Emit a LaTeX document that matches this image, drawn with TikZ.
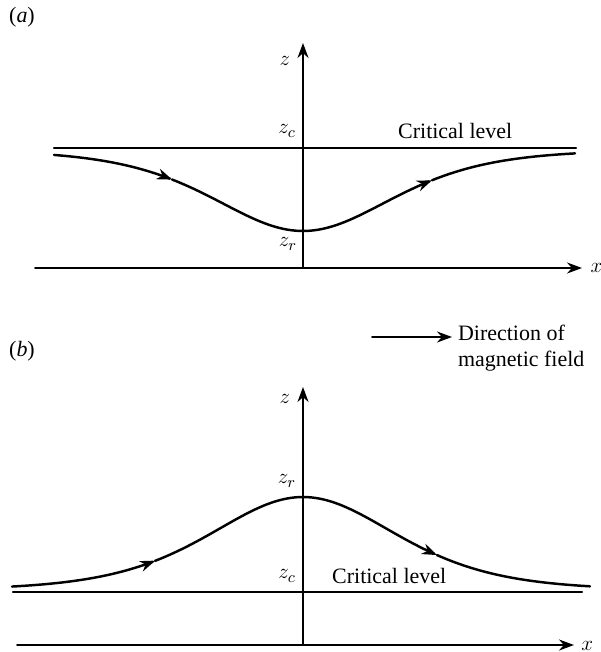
\documentclass[tikz,border=0pt]{standalone}
\usepackage{fontspec}
\setmainfont{Liberation Serif}
\usetikzlibrary{arrows.meta}

\begin{document}
\begin{tikzpicture}[x=0.02cm,y=-0.02cm,>={Stealth[length=3mm,width=2.2mm]},line cap=round,
  font=\fontsize{12.5}{15}\selectfont,
  axis/.style={line width=1.1pt},
  level/.style={line width=1.2pt},
  fieldline/.style={line width=1.4pt,smooth,samples=60}]
\useasboundingbox (0,0) rectangle (601,652);
% panel (a)
\node (taga) at (22,17) {(\textit{a})};
\coordinate (oa) at (303,268);
\coordinate (za) at (303,43);
\coordinate (xla) at (35,268);
\coordinate (xra) at (582,268);
\draw[axis,->] (xla) -- (xra) node[right=1pt] (xa) {$x$};
\draw[axis,->] (oa) -- (za);
\node (zlaba) at (285,61) {$z$};
\coordinate (cla) at (54,148);
\coordinate (cra) at (576,148);
\draw[level] (cla) -- (cra);
\node (zca) at (287,131) {$z_c$};
\node[anchor=west] (crita) at (392,131) {Critical level};
\node (zra) at (288,244) {$z_r$};
\draw[fieldline,->] plot[domain=54:172] (\x,{150+81/cosh((\x-303)/120)^2});
\draw[fieldline,->] plot[domain=172:432] (\x,{150+81/cosh((\x-303)/120)^2});
\draw[fieldline] plot[domain=432:575] (\x,{150+81/cosh((\x-303)/120)^2});
% panel (b)
\node (tagb) at (22,351) {(\textit{b})};
\coordinate (legl) at (372,337);
\coordinate (legr) at (452,337);
\draw[axis,->] (legl) -- (legr);
\node[anchor=west,align=left,inner sep=1pt] (legtext) at (456,348) {Direction of\\magnetic field};
\coordinate (ob) at (303,645);
\coordinate (zb) at (303,387);
\coordinate (xlb) at (17,645);
\coordinate (xrb) at (574,645);
\draw[axis,->] (xlb) -- (xrb);
\node[anchor=west,inner sep=0pt] (xb) at (581,646) {$x$};
\draw[axis,->] (ob) -- (zb);
\node (zlabb) at (285,399) {$z$};
\coordinate (clb) at (13,592);
\coordinate (crb) at (582,592);
\draw[level] (clb) -- (crb);
\node (zcb) at (287,576) {$z_c$};
\node[anchor=west] (critb) at (326,576) {Critical level};
\node (zrb) at (287,481) {$z_r$};
\draw[fieldline,->] plot[domain=12:155] (\x,{590-93/cosh((\x-303)/125)^2});
\draw[fieldline,->] plot[domain=155:437] (\x,{590-93/cosh((\x-303)/125)^2});
\draw[fieldline] plot[domain=437:590] (\x,{590-93/cosh((\x-303)/125)^2});
\end{tikzpicture}
\end{document}
